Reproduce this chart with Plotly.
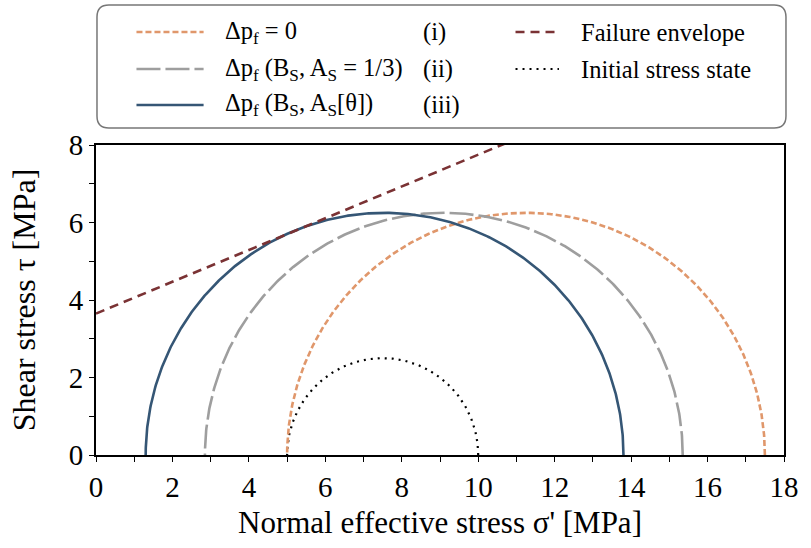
import numpy as np
import plotly.graph_objects as go

# Mohr circles: (sigma3, sigma1) in MPa
circle_names = ["Initial stress state", "Δp_f = 0 (i)", "Δp_f (B_S, A_S = 1/3) (ii)", "Δp_f (B_S, A_S[θ]) (iii)"]
sigma3 = [5.0, 5.0, 2.85, 1.3]
sigma1 = [10.0, 17.5, 15.35, 13.8]
colors = ["#000000", "#E0976B", "#9E9E9E", "#355675"]
dashes = ["2px,5px", "6px,3px", "24px,5px", "solid"]
widths = [2.2, 2.6, 2.6, 2.6]

# Failure envelope: tau = c + mu * sigma
cohesion = 3.65
friction = 0.41
env_sigma = [0.0, 18.0]

fig = go.Figure()

theta = np.linspace(0, np.pi, 400)
for nm, s3, s1, c, d, w in zip(circle_names, sigma3, sigma1, colors, dashes, widths):
    cen = (s1 + s3) / 2
    r = (s1 - s3) / 2
    fig.add_trace(go.Scatter(x=cen + r * np.cos(theta), y=r * np.sin(theta), mode="lines",
                             line=dict(color=c, dash=d, width=w), name=nm, showlegend=False))

fig.add_trace(go.Scatter(x=env_sigma, y=[cohesion + friction * s for s in env_sigma], mode="lines",
                         line=dict(color="#7A3234", dash="9px,6px", width=2.6), name="Failure envelope",
                         showlegend=False))

font = "Liberation Serif"
fig.update_layout(
    width=811, height=548,
    margin=dict(l=96, r=18, t=145, b=93),
    plot_bgcolor="white", paper_bgcolor="white",
    font=dict(family=font, size=24, color="black"),
)
axis_common = dict(showgrid=False, zeroline=False, showline=True, linecolor="black", linewidth=1.8,
                   mirror=True, ticks="outside", ticklen=5, tickwidth=1.3, tickcolor="black",
                   tickfont=dict(family=font, size=29, color="black"))
fig.update_xaxes(range=[0, 18], dtick=2, tick0=0,
                 minor=dict(dtick=1, ticks="outside", ticklen=5, tickcolor="black", tickwidth=1.3),
                 title=dict(text="Normal effective stress σ' [MPa]", font=dict(family=font, size=31), standoff=10),
                 **axis_common)
fig.update_yaxes(range=[0, 8], dtick=2, tick0=0,
                 minor=dict(dtick=1, ticks="outside", ticklen=5, tickcolor="black", tickwidth=1.3),
                 title=dict(text="Shear stress τ [MPa]", font=dict(family=font, size=32), standoff=24),
                 **axis_common)

# Legend box (rounded), built manually
def px2x(p):
    return (p - 96) / 697.0

def py2y(p):
    return (455 - p) / 310.0

x0, x1, y0, y1 = px2x(97), px2x(795), py2y(128), py2y(5)
rr_x, rr_y = 12 / 697.0, 12 / 310.0
path = (f"M {x0+rr_x},{y0} L {x1-rr_x},{y0} Q {x1},{y0} {x1},{y0+rr_y} "
        f"L {x1},{y1-rr_y} Q {x1},{y1} {x1-rr_x},{y1} L {x0+rr_x},{y1} Q {x0},{y1} {x0},{y1-rr_y} "
        f"L {x0},{y0+rr_y} Q {x0},{y0} {x0+rr_x},{y0} Z")
fig.add_shape(type="path", path=path, xref="paper", yref="paper", line=dict(color="#777777", width=1.5),
              fillcolor="white", layer="above")

legend_items = [
    (32, 137, 205, 225, "Δp<sub>f</sub> = 0", "(i)", colors[1], dashes[1], widths[1]),
    (69, 137, 205, 225, "Δp<sub>f</sub> (B<sub>S</sub>, A<sub>S</sub> = 1/3)", "(ii)", colors[2], dashes[2], widths[2]),
    (105, 137, 205, 225, "Δp<sub>f</sub> (B<sub>S</sub>, A<sub>S</sub>[θ])", "(iii)", colors[3], dashes[3], widths[3]),
    (32, 521, 565, 585, "Failure envelope", None, "#7A3234", "9px,6px", 2.6),
    (69, 521, 565, 585, "Initial stress state", None, colors[0], dashes[0], widths[0]),
]
for py, sx0, sx1, tx, txt, tag, c, d, w in legend_items:
    fig.add_shape(type="line", xref="paper", yref="paper", x0=px2x(sx0), x1=px2x(sx1), y0=py2y(py), y1=py2y(py),
                  line=dict(color=c, dash=d, width=w), layer="above")
    fig.add_annotation(xref="paper", yref="paper", x=px2x(tx), y=py2y(py), text=txt, showarrow=False,
                       xanchor="left", yanchor="middle", font=dict(family=font, size=24.5, color="black"))
    if tag:
        fig.add_annotation(xref="paper", yref="paper", x=px2x(425), y=py2y(py), text=tag, showarrow=False,
                           xanchor="left", yanchor="middle", font=dict(family=font, size=24.5, color="black"))

fig.write_html("out.html")
